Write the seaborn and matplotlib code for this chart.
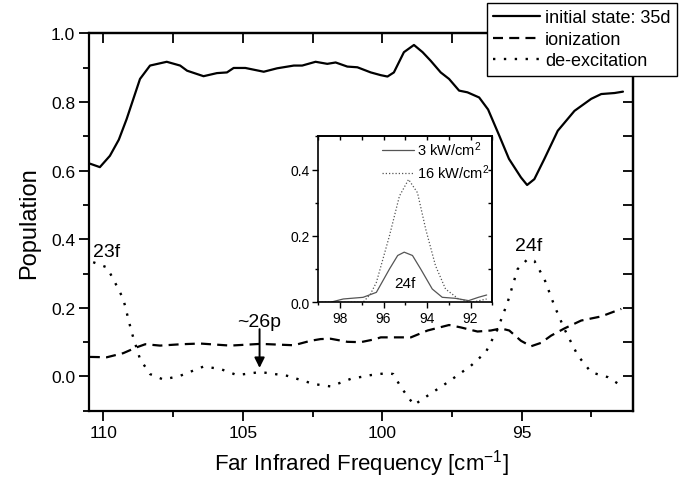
import matplotlib
matplotlib.use("Agg")
import numpy as np
import pandas as pd
import seaborn as sns
import matplotlib.pyplot as plt
from matplotlib.ticker import MultipleLocator

# ---------------- data ----------------
freq_initial = [110.48, 110.13, 109.77, 109.45, 109.17, 108.69, 108.33, 107.73, 107.25, 107.0,
                106.41, 105.93, 105.57, 105.33, 104.91, 104.25, 103.77, 103.17, 102.87, 102.39,
                101.97, 101.67, 101.25, 100.89, 100.41, 100.05, 99.81, 99.58, 99.22, 98.86,
                98.55, 98.26, 97.90, 97.60, 97.24, 96.94, 96.52, 96.20, 95.80, 95.45,
                95.02, 94.80, 94.54, 94.18, 93.70, 93.10, 92.50, 92.14, 91.66, 91.36]
pop_initial = [0.620, 0.610, 0.643, 0.690, 0.750, 0.867, 0.906, 0.917, 0.906, 0.891,
               0.875, 0.884, 0.886, 0.899, 0.899, 0.888, 0.898, 0.906, 0.906, 0.917,
               0.911, 0.915, 0.903, 0.901, 0.886, 0.878, 0.874, 0.886, 0.945, 0.966,
               0.945, 0.920, 0.886, 0.867, 0.833, 0.828, 0.813, 0.778, 0.702, 0.634,
               0.580, 0.558, 0.575, 0.634, 0.716, 0.774, 0.809, 0.823, 0.826, 0.830]

freq_ion = [110.49, 109.88, 109.29, 108.81, 108.50, 107.97, 107.20, 106.53, 105.45, 104.37,
            103.17, 102.57, 102.21, 101.85, 101.25, 100.77, 100.29, 100.05, 99.81, 98.97,
            98.73, 98.37, 97.60, 97.18, 96.58, 96.10, 95.74, 95.44, 95.02, 94.66,
            94.30, 93.94, 93.46, 92.86, 92.14, 91.42]
pop_ion = [0.057, 0.056, 0.068, 0.085, 0.094, 0.090, 0.094, 0.096, 0.090, 0.095,
           0.091, 0.104, 0.109, 0.110, 0.101, 0.100, 0.108, 0.114, 0.114, 0.114,
           0.122, 0.134, 0.150, 0.143, 0.131, 0.134, 0.140, 0.134, 0.104, 0.088,
           0.098, 0.119, 0.140, 0.163, 0.175, 0.197]

freq_deex = [110.37, 109.88, 109.65, 109.29, 108.99, 108.69, 108.33, 107.85, 107.25, 106.41,
             105.81, 105.21, 104.37, 103.41, 102.45, 101.85, 101.13, 100.41, 99.81, 99.60,
             99.33, 98.86, 98.37, 97.65, 96.82, 96.28, 95.86, 95.50, 95.14, 94.78,
             94.54, 94.18, 93.82, 93.46, 92.98, 92.50, 91.90, 91.42]
pop_deex = [0.333, 0.318, 0.284, 0.226, 0.129, 0.051, 0.007, -0.009, 0.002, 0.029,
            0.022, 0.004, 0.013, 0.002, -0.022, -0.029, -0.007, 0.004, 0.010, 0.007,
            -0.031, -0.083, -0.056, -0.017, 0.031, 0.071, 0.138, 0.216, 0.313, 0.342,
            0.337, 0.284, 0.206, 0.138, 0.061, 0.012, -0.002, -0.027]

freq_3kw = [99.0, 98.45, 97.85, 96.94, 96.33, 95.73, 95.35, 95.05, 94.67, 94.29,
            93.76, 93.30, 92.70, 92.09, 91.64, 91.26]
pop_3kw = [0.0, 0.0, 0.010, 0.015, 0.030, 0.100, 0.141, 0.151, 0.141, 0.100,
           0.040, 0.015, 0.012, 0.005, 0.015, 0.022]

freq_16kw = [99.0, 96.94, 96.60, 96.33, 95.73, 95.27, 94.85, 94.44, 94.06, 93.61,
             93.15, 92.55, 91.94, 91.26]
pop_16kw = [0.0, 0.0, 0.025, 0.060, 0.200, 0.320, 0.370, 0.330, 0.220, 0.110,
            0.040, 0.010, 0.0, 0.010]

series_labels = ["initial state: 35d", "ionization", "de-excitation"]
inset_labels = ["3 kW/cm$^2$", "16 kW/cm$^2$"]
x_ticks = [110, 105, 100, 95]
y_ticks = [0.0, 0.2, 0.4, 0.6, 0.8, 1.0]
inset_x_ticks = [98, 96, 94, 92]
inset_y_ticks = [0.0, 0.2, 0.4]

# ---------------- style ----------------
sns.set_theme(style="ticks")
plt.rcParams["font.family"] = ["Liberation Sans", "DejaVu Sans"]
plt.rcParams["mathtext.fontset"] = "custom"
plt.rcParams["mathtext.rm"] = "Liberation Sans"
plt.rcParams["mathtext.it"] = "Liberation Sans:italic"
plt.rcParams["mathtext.default"] = "regular"
plt.rcParams["axes.edgecolor"] = "black"
plt.rcParams["xtick.color"] = "black"
plt.rcParams["ytick.color"] = "black"
plt.rcParams["text.color"] = "black"
plt.rcParams["axes.labelcolor"] = "black"

fig = plt.figure(figsize=(6.79, 4.81), dpi=100)
fig.patch.set_facecolor("white")
ax = fig.add_axes([89 / 679, 1 - 411.8 / 481, (633 - 89) / 679, (411.8 - 34.3) / 481])

df_init = pd.DataFrame({"f": freq_initial, "p": pop_initial})
df_ion = pd.DataFrame({"f": freq_ion, "p": pop_ion})
df_deex = pd.DataFrame({"f": freq_deex, "p": pop_deex})

sns.lineplot(data=df_init, x="f", y="p", ax=ax, color="black", lw=1.6,
             sort=False, estimator=None, label=series_labels[0])
sns.lineplot(data=df_ion, x="f", y="p", ax=ax, color="black", lw=1.6,
             sort=False, estimator=None, label=series_labels[1], linestyle=(0, (4.5, 2.8)))
sns.lineplot(data=df_deex, x="f", y="p", ax=ax, color="black", lw=1.7,
             sort=False, estimator=None, label=series_labels[2], linestyle=(0, (1, 3.6)))

handles, labels = ax.get_legend_handles_labels()
ax.get_legend().remove()

ax.set_xlim(110.52, 91.0)
ax.set_ylim(-0.1, 1.0)
ax.set_xticks(x_ticks)
ax.set_xticklabels([str(v) for v in x_ticks])
ax.set_yticks(y_ticks)
ax.set_yticklabels([f"{v:.1f}" for v in y_ticks])
ax.xaxis.set_minor_locator(MultipleLocator(2.5))
ax.yaxis.set_minor_locator(MultipleLocator(0.1))
ax.tick_params(which="both", direction="out", top=False, right=False, width=1.3,
               labelsize=12.5, pad=3)
ax.tick_params(which="major", length=7)
ax.tick_params(which="minor", length=4.5)
for s in ax.spines.values():
    s.set_linewidth(1.6)
    s.set_visible(True)

ax.set_xlabel("Far Infrared Frequency [cm$^{-1}$]", fontsize=16, labelpad=5)
ax.set_ylabel("Population", fontsize=17, labelpad=8)

secx = ax.secondary_xaxis("top")
secx.set_xticks(list(np.arange(110, 90.9, -2.5)))
secx.tick_params(direction="in", length=7, width=1.3, labeltop=False)
secx.spines["top"].set_linewidth(1.6)
secy = ax.secondary_yaxis("right")
secy.set_yticks([round(v, 1) for v in np.arange(0.0, 1.01, 0.1)])
secy.tick_params(direction="in", length=7, width=1.3, labelright=False)
secy.spines["right"].set_linewidth(1.6)

ax.text(110.38, 0.352, "23f", fontsize=14, ha="left", va="baseline")
ax.text(94.75, 0.368, "24f", fontsize=14, ha="center", va="baseline")
ax.text(104.42, 0.148, "~26p", fontsize=14, ha="center", va="baseline")
ax.annotate("", xy=(104.4, 0.025), xytext=(104.4, 0.138),
            arrowprops=dict(arrowstyle="-|>", color="black", lw=1.4, mutation_scale=15,
                            shrinkA=0, shrinkB=0))

leg = fig.legend(handles, labels, loc="upper right",
                 bbox_to_anchor=(677 / 679, 1 - 4 / 481), frameon=True, fancybox=False,
                 edgecolor="black", framealpha=1, fontsize=13, handlelength=2.6,
                 handletextpad=0.3, labelspacing=0.25, borderpad=0.35, borderaxespad=0)
leg.get_frame().set_linewidth(1.0)

# ---------------- inset ----------------
axin = fig.add_axes([318.3 / 679, 1 - 303.3 / 481, (492.3 - 318.3) / 679, (303.3 - 137.3) / 481])
axin.set_facecolor("white")
df_3 = pd.DataFrame({"f": freq_3kw, "p": pop_3kw})
df_16 = pd.DataFrame({"f": freq_16kw, "p": pop_16kw})
sns.lineplot(data=df_3, x="f", y="p", ax=axin, color="#555555", lw=0.9,
             sort=False, estimator=None, label=inset_labels[0])
sns.lineplot(data=df_16, x="f", y="p", ax=axin, color="#555555", lw=0.9,
             sort=False, estimator=None, label=inset_labels[1], linestyle=(0, (1, 1.6)))
axin.set_xlim(99, 91)
axin.set_ylim(0, 0.5)
axin.set_xticks(inset_x_ticks)
axin.set_xticklabels([str(v) for v in inset_x_ticks])
axin.set_yticks(inset_y_ticks)
axin.set_yticklabels([f"{v:.1f}" for v in inset_y_ticks])
axin.xaxis.set_minor_locator(MultipleLocator(1))
axin.yaxis.set_minor_locator(MultipleLocator(0.1))
axin.tick_params(which="both", direction="out", top=False, right=False, width=1.0,
                 labelsize=10, pad=2)
axin.tick_params(which="major", length=4)
axin.tick_params(which="minor", length=2.5)
axin.set_xlabel("")
axin.set_ylabel("")
for s in axin.spines.values():
    s.set_linewidth(1.2)
    s.set_visible(True)
isx = axin.secondary_xaxis("top")
isx.set_xticks(list(range(99, 90, -1)))
isx.tick_params(direction="in", length=3, width=1.0, labeltop=False)
isy = axin.secondary_yaxis("right")
isy.set_yticks([0.1, 0.2, 0.3, 0.4])
isy.tick_params(direction="in", length=3, width=1.0, labelright=False)
axin.text(95.0, 0.045, "24f", fontsize=11, ha="center", va="baseline")
ileg = axin.legend(loc="upper right", frameon=False, fontsize=10.5, handlelength=2.2,
                   handletextpad=0.2, labelspacing=0.3, borderaxespad=0.1, borderpad=0.1)

fig.savefig("out.png", dpi=100, facecolor="white")
